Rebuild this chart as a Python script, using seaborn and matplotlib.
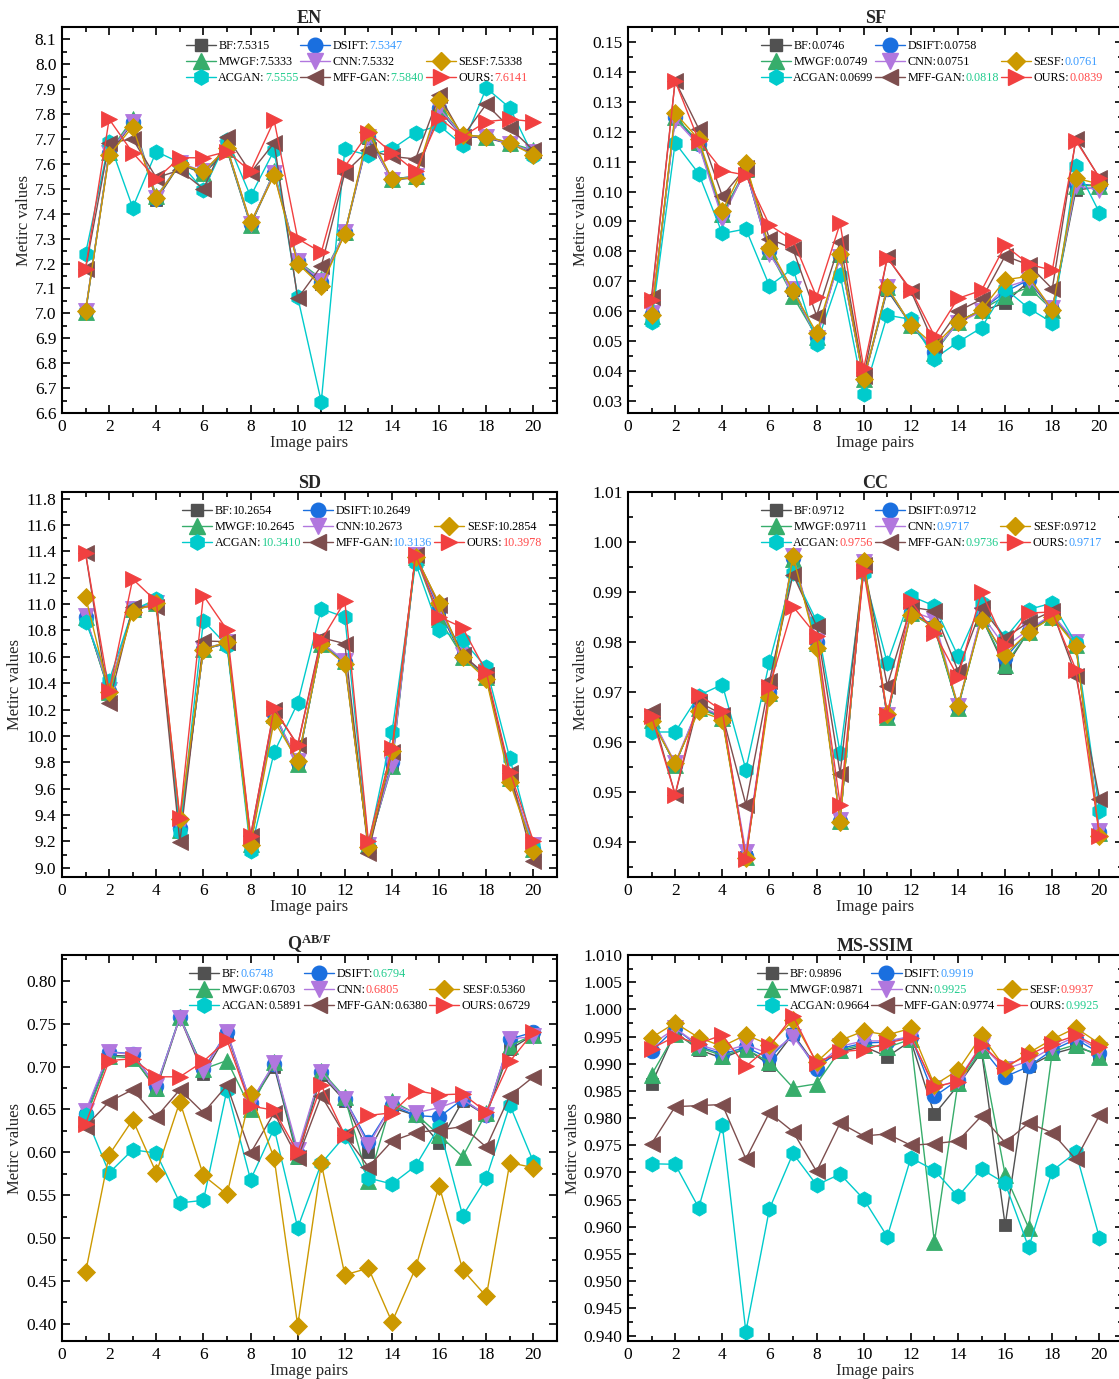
import numpy as np
import pandas as pd
import matplotlib
matplotlib.use("Agg")
import matplotlib.pyplot as plt
import seaborn as sns
from matplotlib.ticker import MultipleLocator, FormatStrFormatter
from matplotlib.lines import Line2D

sns.set_theme(style="ticks")
plt.rcParams["font.family"] = ["Liberation Serif", "DejaVu Serif"]
plt.rcParams["mathtext.fontset"] = "custom"
plt.rcParams["mathtext.rm"] = "Liberation Serif"
plt.rcParams["mathtext.bf"] = "Liberation Serif:bold"
plt.rcParams["axes.unicode_minus"] = False

# ---------------- data ----------------
pairs = list(range(1, 21))
methods = ["BF", "DSIFT", "MWGF", "CNN", "SESF", "ACGAN", "MFF-GAN", "OURS"]

en_bf     = [7.005, 7.640, 7.765, 7.455, 7.600, 7.560, 7.655, 7.355, 7.560, 7.205, 7.120, 7.320, 7.705, 7.535, 7.545, 7.815, 7.710, 7.705, 7.680, 7.645]
en_dsift  = [7.010, 7.645, 7.770, 7.460, 7.605, 7.565, 7.665, 7.360, 7.565, 7.210, 7.125, 7.325, 7.710, 7.540, 7.550, 7.825, 7.710, 7.710, 7.680, 7.650]
en_mwgf   = [7.005, 7.650, 7.780, 7.470, 7.600, 7.565, 7.660, 7.355, 7.570, 7.210, 7.140, 7.325, 7.715, 7.540, 7.550, 7.830, 7.715, 7.710, 7.685, 7.655]
en_cnn    = [7.010, 7.645, 7.770, 7.465, 7.605, 7.570, 7.665, 7.360, 7.565, 7.210, 7.130, 7.325, 7.710, 7.535, 7.550, 7.825, 7.710, 7.710, 7.680, 7.650]
en_sesf   = [7.010, 7.635, 7.750, 7.465, 7.600, 7.570, 7.665, 7.365, 7.555, 7.200, 7.110, 7.320, 7.730, 7.540, 7.545, 7.855, 7.715, 7.710, 7.685, 7.635]
en_acgan  = [7.240, 7.690, 7.425, 7.650, 7.605, 7.495, 7.695, 7.470, 7.655, 7.065, 6.645, 7.660, 7.635, 7.660, 7.725, 7.755, 7.675, 7.905, 7.825, 7.630]
en_mffgan = [7.180, 7.685, 7.700, 7.545, 7.575, 7.500, 7.710, 7.565, 7.685, 7.060, 7.190, 7.565, 7.655, 7.630, 7.620, 7.875, 7.710, 7.840, 7.745, 7.655]
en_ours   = [7.180, 7.780, 7.645, 7.540, 7.625, 7.625, 7.650, 7.570, 7.775, 7.300, 7.245, 7.590, 7.725, 7.645, 7.570, 7.785, 7.710, 7.770, 7.780, 7.770]

sf_bf     = [0.0590, 0.1250, 0.1160, 0.0920, 0.1070, 0.0795, 0.0670, 0.0510, 0.0785, 0.0370, 0.0670, 0.0555, 0.0465, 0.0565, 0.0600, 0.0628, 0.0700, 0.0605, 0.1005, 0.1015]
sf_dsift  = [0.0590, 0.1250, 0.1160, 0.0925, 0.1070, 0.0800, 0.0670, 0.0515, 0.0785, 0.0372, 0.0675, 0.0555, 0.0465, 0.0565, 0.0605, 0.0665, 0.0705, 0.0605, 0.1025, 0.1020]
sf_mwgf   = [0.0585, 0.1250, 0.1165, 0.0925, 0.1075, 0.0800, 0.0650, 0.0515, 0.0790, 0.0372, 0.0680, 0.0555, 0.0460, 0.0565, 0.0605, 0.0650, 0.0680, 0.0605, 0.1020, 0.1020]
sf_cnn    = [0.0595, 0.1240, 0.1155, 0.0910, 0.1075, 0.0790, 0.0675, 0.0510, 0.0780, 0.0370, 0.0680, 0.0555, 0.0470, 0.0560, 0.0600, 0.0680, 0.0705, 0.0610, 0.1020, 0.1005]
sf_sesf   = [0.0588, 0.1262, 0.1175, 0.0935, 0.1095, 0.0813, 0.0668, 0.0528, 0.0790, 0.0372, 0.0680, 0.0555, 0.0485, 0.0565, 0.0605, 0.0705, 0.0717, 0.0603, 0.1045, 0.1025]
sf_acgan  = [0.0565, 0.1163, 0.1060, 0.0860, 0.0875, 0.0685, 0.0743, 0.0490, 0.0722, 0.0323, 0.0587, 0.0573, 0.0442, 0.0497, 0.0545, 0.0675, 0.0610, 0.0562, 0.1085, 0.0930]
sf_mffgan = [0.0648, 0.1370, 0.1210, 0.0985, 0.1080, 0.0843, 0.0808, 0.0585, 0.0832, 0.0382, 0.0780, 0.0668, 0.0488, 0.0600, 0.0640, 0.0785, 0.0755, 0.0675, 0.1175, 0.1045]
sf_ours   = [0.0637, 0.1370, 0.1170, 0.1070, 0.1055, 0.0888, 0.0838, 0.0648, 0.0894, 0.0410, 0.0779, 0.0672, 0.0518, 0.0643, 0.0670, 0.0820, 0.0757, 0.0737, 0.1170, 0.1047]

sd_bf     = [10.90, 10.34, 10.96, 11.01, 9.30, 10.66, 10.70, 9.18, 10.17, 9.80, 10.70, 10.56, 9.16, 9.79, 11.37, 10.95, 10.60, 10.45, 9.69, 9.14]
sd_dsift  = [10.90, 10.34, 10.96, 11.01, 9.30, 10.66, 10.70, 9.18, 10.17, 9.80, 10.70, 10.56, 9.16, 9.80, 11.37, 10.96, 10.60, 10.45, 9.69, 9.14]
sd_mwgf   = [10.90, 10.33, 10.96, 11.01, 9.29, 10.66, 10.71, 9.18, 10.16, 9.79, 10.70, 10.57, 9.17, 9.77, 11.36, 10.89, 10.60, 10.45, 9.68, 9.14]
sd_cnn    = [10.91, 10.35, 10.96, 11.01, 9.31, 10.66, 10.71, 9.19, 10.17, 9.81, 10.71, 10.57, 9.17, 9.78, 11.37, 10.97, 10.61, 10.46, 9.68, 9.17]
sd_sesf   = [11.055, 10.33, 10.94, 11.01, 9.37, 10.655, 10.71, 9.17, 10.115, 9.81, 10.695, 10.545, 9.16, 9.885, 11.36, 11.005, 10.595, 10.43, 9.65, 9.13]
sd_acgan  = [10.865, 10.42, 10.955, 11.035, 9.27, 10.875, 10.685, 9.13, 9.875, 10.25, 10.965, 10.90, 9.18, 10.03, 11.31, 10.805, 10.725, 10.52, 9.83, 9.16]
sd_mffgan = [11.385, 10.25, 10.975, 10.98, 9.195, 10.72, 10.715, 9.24, 10.20, 9.93, 10.745, 10.70, 9.115, 9.88, 11.37, 10.995, 10.615, 10.46, 9.72, 9.05]
sd_ours   = [11.385, 10.34, 11.19, 11.02, 9.38, 11.065, 10.805, 9.24, 10.21, 9.93, 10.725, 11.02, 9.20, 9.905, 11.375, 10.905, 10.82, 10.485, 9.73, 9.20]

cc_bf     = [0.9648, 0.9555, 0.9670, 0.9650, 0.9370, 0.9700, 0.9968, 0.9800, 0.9442, 0.9958, 0.9650, 0.9860, 0.9830, 0.9670, 0.9850, 0.9748, 0.9822, 0.9853, 0.9795, 0.9420]
cc_dsift  = [0.9648, 0.9555, 0.9670, 0.9650, 0.9372, 0.9700, 0.9968, 0.9800, 0.9442, 0.9958, 0.9652, 0.9860, 0.9832, 0.9670, 0.9852, 0.9768, 0.9822, 0.9853, 0.9797, 0.9420]
cc_mwgf   = [0.9645, 0.9555, 0.9668, 0.9648, 0.9370, 0.9698, 0.9967, 0.9798, 0.9442, 0.9958, 0.9650, 0.9858, 0.9828, 0.9668, 0.9848, 0.9755, 0.9820, 0.9850, 0.9795, 0.9418]
cc_cnn    = [0.9650, 0.9558, 0.9672, 0.9652, 0.9380, 0.9702, 0.9972, 0.9802, 0.9445, 0.9960, 0.9655, 0.9862, 0.9845, 0.9672, 0.9855, 0.9790, 0.9825, 0.9855, 0.9800, 0.9422]
cc_sesf   = [0.9642, 0.9558, 0.9662, 0.9645, 0.9368, 0.9690, 0.9972, 0.9788, 0.9441, 0.9962, 0.9657, 0.9855, 0.9833, 0.9673, 0.9845, 0.9775, 0.9820, 0.9850, 0.9792, 0.9412]
cc_acgan  = [0.9620, 0.9620, 0.9693, 0.9715, 0.9545, 0.9760, 0.9938, 0.9842, 0.9578, 0.9938, 0.9758, 0.9892, 0.9872, 0.9772, 0.9878, 0.9808, 0.9865, 0.9878, 0.9798, 0.9462]
cc_mffgan = [0.9662, 0.9495, 0.9680, 0.9655, 0.9475, 0.9722, 0.9935, 0.9832, 0.9537, 0.9955, 0.9713, 0.9870, 0.9862, 0.9742, 0.9868, 0.9808, 0.9840, 0.9862, 0.9733, 0.9487]
cc_ours   = [0.9652, 0.9495, 0.9695, 0.9662, 0.9367, 0.9710, 0.9871, 0.9813, 0.9475, 0.9942, 0.9655, 0.9882, 0.9818, 0.9730, 0.9900, 0.9795, 0.9858, 0.9860, 0.9745, 0.9413]

q_bf      = [0.640, 0.713, 0.712, 0.673, 0.757, 0.691, 0.738, 0.656, 0.700, 0.593, 0.690, 0.660, 0.600, 0.652, 0.643, 0.611, 0.660, 0.643, 0.720, 0.737]
q_dsift   = [0.645, 0.717, 0.715, 0.677, 0.758, 0.697, 0.740, 0.658, 0.703, 0.598, 0.694, 0.662, 0.612, 0.655, 0.643, 0.641, 0.662, 0.643, 0.732, 0.740]
q_mwgf    = [0.640, 0.712, 0.710, 0.675, 0.758, 0.697, 0.707, 0.651, 0.705, 0.596, 0.695, 0.664, 0.566, 0.660, 0.645, 0.620, 0.595, 0.646, 0.724, 0.737]
q_cnn     = [0.648, 0.717, 0.714, 0.677, 0.757, 0.695, 0.740, 0.658, 0.704, 0.603, 0.694, 0.662, 0.608, 0.656, 0.646, 0.652, 0.662, 0.643, 0.732, 0.735]
q_sesf    = [0.460, 0.597, 0.638, 0.576, 0.659, 0.573, 0.551, 0.668, 0.593, 0.398, 0.587, 0.457, 0.465, 0.402, 0.465, 0.561, 0.463, 0.432, 0.588, 0.582]
q_acgan   = [0.643, 0.576, 0.603, 0.599, 0.541, 0.544, 0.673, 0.568, 0.628, 0.512, 0.587, 0.619, 0.570, 0.563, 0.584, 0.630, 0.526, 0.570, 0.655, 0.589]
q_mffgan  = [0.630, 0.659, 0.673, 0.641, 0.673, 0.646, 0.678, 0.599, 0.646, 0.593, 0.666, 0.620, 0.583, 0.613, 0.623, 0.626, 0.630, 0.606, 0.666, 0.688]
q_ours    = [0.633, 0.707, 0.709, 0.688, 0.688, 0.706, 0.731, 0.654, 0.649, 0.600, 0.678, 0.620, 0.643, 0.646, 0.672, 0.667, 0.668, 0.647, 0.706, 0.740]

ms_bf     = [0.9863, 0.9958, 0.9926, 0.9910, 0.9928, 0.9898, 0.9955, 0.9895, 0.9922, 0.9932, 0.9913, 0.9942, 0.9807, 0.9860, 0.9922, 0.9603, 0.9895, 0.9918, 0.9930, 0.9918]
ms_dsift  = [0.9923, 0.9965, 0.9932, 0.9918, 0.9930, 0.9910, 0.9955, 0.9890, 0.9928, 0.9938, 0.9940, 0.9950, 0.9840, 0.9870, 0.9930, 0.9876, 0.9895, 0.9925, 0.9945, 0.9920]
ms_mwgf   = [0.9880, 0.9955, 0.9930, 0.9915, 0.9927, 0.9903, 0.9856, 0.9863, 0.9925, 0.9935, 0.9930, 0.9945, 0.9572, 0.9865, 0.9925, 0.9696, 0.9598, 0.9922, 0.9935, 0.9913]
ms_cnn    = [0.9935, 0.9965, 0.9935, 0.9922, 0.9935, 0.9918, 0.9950, 0.9895, 0.9932, 0.9942, 0.9942, 0.9950, 0.9855, 0.9870, 0.9935, 0.9890, 0.9905, 0.9930, 0.9950, 0.9925]
ms_sesf   = [0.9948, 0.9975, 0.9948, 0.9932, 0.9953, 0.9935, 0.9980, 0.9903, 0.9943, 0.9960, 0.9953, 0.9965, 0.9861, 0.9888, 0.9952, 0.9892, 0.9920, 0.9945, 0.9966, 0.9937]
ms_acgan  = [0.9716, 0.9715, 0.9635, 0.9788, 0.9407, 0.9633, 0.9735, 0.9677, 0.9697, 0.9651, 0.9582, 0.9727, 0.9704, 0.9656, 0.9706, 0.9680, 0.9562, 0.9703, 0.9737, 0.9580]
ms_mffgan = [0.9753, 0.9821, 0.9823, 0.9825, 0.9725, 0.9810, 0.9775, 0.9702, 0.9791, 0.9767, 0.9771, 0.9750, 0.9753, 0.9758, 0.9804, 0.9755, 0.9791, 0.9773, 0.9724, 0.9805]
ms_ours   = [0.9928, 0.9950, 0.9937, 0.9953, 0.9895, 0.9932, 0.9988, 0.9901, 0.9922, 0.9926, 0.9938, 0.9948, 0.9858, 0.9867, 0.9935, 0.9895, 0.9916, 0.9937, 0.9952, 0.9930]

# legend average values (text) and highlight colour keys
en_avg = ["7.5315", "7.5347", "7.5333", "7.5332", "7.5338", "7.5555", "7.5840", "7.6141"]
en_hl  = ["k", "b", "k", "k", "k", "g", "g", "r"]
sf_avg = ["0.0746", "0.0758", "0.0749", "0.0751", "0.0761", "0.0699", "0.0818", "0.0839"]
sf_hl  = ["k", "k", "k", "k", "b", "k", "g", "r"]
sd_avg = ["10.2654", "10.2649", "10.2645", "10.2673", "10.2854", "10.3410", "10.3136", "10.3978"]
sd_hl  = ["k", "k", "k", "k", "k", "g", "b", "r"]
cc_avg = ["0.9712", "0.9712", "0.9711", "0.9717", "0.9712", "0.9756", "0.9736", "0.9717"]
cc_hl  = ["k", "k", "k", "b", "k", "r", "g", "b"]
q_avg  = ["0.6748", "0.6794", "0.6703", "0.6805", "0.5360", "0.5891", "0.6380", "0.6729"]
q_hl   = ["b", "g", "k", "r", "k", "k", "k", "k"]
ms_avg = ["0.9896", "0.9919", "0.9871", "0.9925", "0.9937", "0.9664", "0.9774", "0.9925"]
ms_hl  = ["k", "b", "k", "g", "r", "k", "k", "g"]

# ---------------- styles ----------------
colors = {"BF": "#515151", "DSIFT": "#1A6FDF", "MWGF": "#37AD6B", "CNN": "#B177DE",
          "SESF": "#CC9900", "ACGAN": "#00CBCC", "MFF-GAN": "#7D4E4E", "OURS": "#F14040"}
markers = {"BF": "s", "DSIFT": "o", "MWGF": "^", "CNN": "v", "SESF": "D",
           "ACGAN": "h", "MFF-GAN": "<", "OURS": ">"}
msizes = {"BF": 8.5, "DSIFT": 10.5, "MWGF": 11, "CNN": 11, "SESF": 9,
          "ACGAN": 11, "MFF-GAN": 11, "OURS": 11}
hl_colors = {"k": "black", "r": "#FF4A4A", "b": "#3A9BFF", "g": "#22CC8E"}
draw_order = ["BF", "DSIFT", "MWGF", "CNN", "ACGAN", "MFF-GAN", "SESF", "OURS"]
legend_order = ["BF", "MWGF", "ACGAN", "DSIFT", "CNN", "MFF-GAN", None, "SESF", "OURS"]

W, H = 1119, 1379
fig = plt.figure(figsize=(W / 100, H / 100), dpi=100)


def rect(x0, x1, yt, yb):
    return [x0 / W, 1 - yb / H, (x1 - x0) / W, (yb - yt) / H]


LFS = 8.7


def panel(box, title, data, avg, hl, ylim, major, minor, fmt, lx):
    ax = fig.add_axes(rect(*box))
    for name in draw_order:
        sns.lineplot(x=pairs, y=data[name], ax=ax, color=colors[name],
                     marker=markers[name], markersize=msizes[name],
                     markeredgecolor=colors[name], markeredgewidth=0.6,
                     linewidth=1.0, estimator=None, sort=False, legend=False)
    ax.set_xlim(0, 21)
    ax.set_ylim(*ylim)
    ax.xaxis.set_major_locator(MultipleLocator(2))
    ax.xaxis.set_minor_locator(MultipleLocator(1))
    ax.yaxis.set_major_locator(MultipleLocator(major))
    ax.yaxis.set_minor_locator(MultipleLocator(minor))
    ax.yaxis.set_major_formatter(FormatStrFormatter(fmt))
    ax.tick_params(which="both", direction="in", top=True, right=True,
                   labelsize=12.5, colors="black", width=1.2)
    ax.tick_params(which="major", length=6, pad=4)
    ax.tick_params(which="minor", length=3.5)
    for s in ax.spines.values():
        s.set_linewidth(1.5)
        s.set_color("black")
    ax.set_xlabel("Image pairs", fontsize=12, labelpad=0)
    ax.set_ylabel("Metirc values", fontsize=12, labelpad=2)
    ax.set_title(title, fontsize=13, fontweight="bold", pad=3)

    handles, labels, names = [], [], []
    for name in legend_order:
        if name is None:
            handles.append(Line2D([], [], linestyle="none"))
            labels.append(" ")
            names.append(None)
        else:
            i = methods.index(name)
            handles.append(Line2D([], [], color=colors[name], marker=markers[name],
                                  markersize=msizes[name], markeredgecolor=colors[name],
                                  linewidth=1.0))
            labels.append(f"{name}:{avg[i]}")
            names.append(name)
    leg = ax.legend(handles, labels, ncol=3, loc="upper left", bbox_to_anchor=(lx, 0.966),
                    frameon=False, fontsize=LFS, handlelength=2.5, handletextpad=0.2,
                    columnspacing=0.15, labelspacing=0.33, borderpad=0, borderaxespad=0)
    leg.set_zorder(5)
    for t, name in zip(leg.get_texts(), names):
        if name is None:
            continue
        i = methods.index(name)
        t.set_alpha(0.0)
        a1 = ax.annotate(name + ":", xy=(0, 0), xycoords=t, ha="left", va="bottom",
                         fontsize=LFS, color="black", zorder=20, annotation_clip=False)
        ax.annotate(avg[i], xy=(1, 0), xycoords=a1, ha="left", va="bottom",
                    fontsize=LFS, color=hl_colors[hl[i]], zorder=21, annotation_clip=False)
    return ax


def pack(a, b, c, d, e, f, g, h):
    return dict(zip(methods, [a, b, c, d, e, f, g, h]))


panel((62, 557, 27, 413), "EN",
      pack(en_bf, en_dsift, en_mwgf, en_cnn, en_sesf, en_acgan, en_mffgan, en_ours),
      en_avg, en_hl, (6.6, 8.15), 0.1, 0.05, "%.1f", 0.25)
panel((628, 1123, 27, 413), "SF",
      pack(sf_bf, sf_dsift, sf_mwgf, sf_cnn, sf_sesf, sf_acgan, sf_mffgan, sf_ours),
      sf_avg, sf_hl, (0.026, 0.155), 0.01, 0.005, "%.2f", 0.268)
panel((62, 557, 492, 877), "SD",
      pack(sd_bf, sd_dsift, sd_mwgf, sd_cnn, sd_sesf, sd_acgan, sd_mffgan, sd_ours),
      sd_avg, sd_hl, (8.93, 11.85), 0.2, 0.1, "%.1f", 0.243)
panel((628, 1123, 492, 877), "CC",
      pack(cc_bf, cc_dsift, cc_mwgf, cc_cnn, cc_sesf, cc_acgan, cc_mffgan, cc_ours),
      cc_avg, cc_hl, (0.933, 1.01), 0.01, 0.005, "%.2f", 0.268)
panel((62, 557, 955, 1341), r"$\mathbf{Q^{AB/F}}$",
      pack(q_bf, q_dsift, q_mwgf, q_cnn, q_sesf, q_acgan, q_mffgan, q_ours),
      q_avg, q_hl, (0.38, 0.83), 0.05, 0.025, "%.2f", 0.257)
panel((628, 1123, 955, 1341), "MS-SSIM",
      pack(ms_bf, ms_dsift, ms_mwgf, ms_cnn, ms_sesf, ms_acgan, ms_mffgan, ms_ours),
      ms_avg, ms_hl, (0.939, 1.010), 0.005, 0.0025, "%.3f", 0.261)

fig.savefig("out.png", dpi=100)
